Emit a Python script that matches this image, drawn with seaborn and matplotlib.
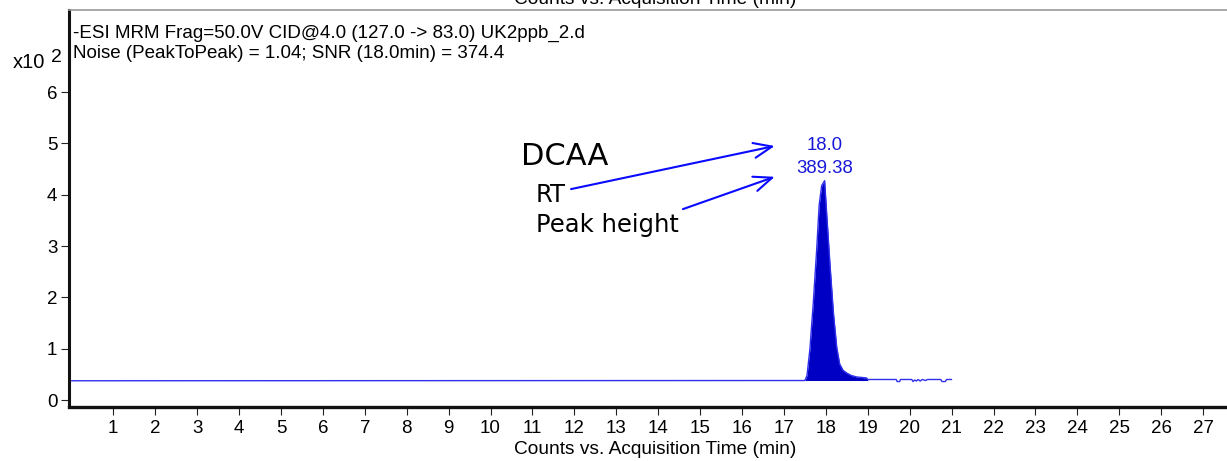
import numpy as np
import pandas as pd
import matplotlib
matplotlib.use("Agg")
import matplotlib.pyplot as plt
import seaborn as sns

# --- chromatogram trace (time in min, signal in counts) ---
baseline_counts = 38.0
peak_rt = 17.97
peak_height = 389.38

time_min = [0.00, 17.50, 17.55, 17.62, 17.70, 17.78, 17.84, 17.90, peak_rt,
            18.02, 18.10, 18.18, 18.26, 18.33, 18.41, 18.49, 18.60, 18.73,
            18.85, 18.97, 19.00, 19.68, 19.70, 19.76, 19.78, 20.05, 20.08,
            20.12, 20.16, 20.20, 20.25, 20.30, 20.38, 20.42, 20.74, 20.77,
            20.85, 20.88, 21.00]
counts = [37.5, 38.0, 48.0, 100.0, 190.0, 292.0, 380.0, 418.0,
          baseline_counts + peak_height,
          362.0, 262.0, 170.0, 102.0, 70.0, 58.0, 53.0, 48.0, 45.0,
          44.0, 43.0, 40.0, 40.0, 36.0, 36.0, 40.0, 40.0, 36.0,
          39.0, 37.0, 40.0, 37.0, 40.0, 38.0, 40.0, 40.0, 36.0,
          36.0, 40.0, 40.0]

x_ticks = list(range(1, 28))
y_ticks = [0, 1, 2, 3, 4, 5, 6]
header_lines = ["-ESI MRM Frag=50.0V CID@4.0 (127.0 -> 83.0) UK2ppb_2.d",
                "Noise (PeakToPeak) = 1.04; SNR (18.0min) = 374.4"]
axis_title = "Counts vs. Acquisition Time (min)"

df = pd.DataFrame({"time": time_min, "signal": np.array(counts) / 100.0})

sns.set_theme(style="ticks")
plt.rcParams["font.family"] = ["Liberation Sans", "DejaVu Sans"]
plt.rcParams["text.color"] = "black"

fig = plt.figure(figsize=(12.27, 4.61), dpi=100)
ax = fig.add_axes([68.5 / 1227, 54 / 461, (1227 - 68.5) / 1227, (407 - 10) / 461])

line_blue = "#3030ec"
fill_blue = "#0000c4"
ann_blue = "#0a0aff"
label_blue = "#1818d8"

# filled peak area above the baseline
in_peak = (df["time"] >= 17.5) & (df["time"] <= 19.0)
ax.fill_between(df["time"][in_peak], baseline_counts / 100.0, df["signal"][in_peak],
                color=fill_blue, linewidth=0)
sns.lineplot(data=df, x="time", y="signal", sort=False, estimator=None,
             color=line_blue, linewidth=1.0, ax=ax)

ax.set_xlim(-0.069, 27.57)
ax.set_ylim(-0.136, 7.6)
ax.set_xticks(x_ticks)
ax.set_yticks(y_ticks)
ax.set_xticklabels([str(t) for t in x_ticks])
ax.set_yticklabels([str(t) for t in y_ticks])
ax.tick_params(axis="both", direction="out", length=6, width=0.8,
               colors="#222222", labelsize=13.5, labelcolor="black")
ax.tick_params(axis="x", pad=3)
ax.tick_params(axis="y", pad=2)

ax.spines["right"].set_visible(False)
ax.spines["top"].set_visible(True)
ax.spines["top"].set_color("#9a9a9a")
ax.spines["top"].set_linewidth(1.2)
ax.spines["left"].set_color("#111111")
ax.spines["left"].set_linewidth(2.2)
ax.spines["bottom"].set_color("#111111")
ax.spines["bottom"].set_linewidth(2.4)

ax.set_xlabel(axis_title, fontsize=13.8, color="black")
ax.set_ylabel("")
ax.xaxis.set_label_coords(0.5067, -0.085)

# header text inside the plot
fig.text(73 / 1227, 1 - 33 / 461, header_lines[0],
         fontsize=13.5, va="center", ha="left", color="black")
fig.text(73 / 1227, 1 - 54 / 461, header_lines[1],
         fontsize=13.5, va="center", ha="left", color="black")

# axis multiplier
fig.text(13 / 1227, 1 - 62.5 / 461, "x10", fontsize=14.5, va="center", ha="left")
fig.text(51 / 1227, 1 - 57 / 461, "2", fontsize=14, va="center", ha="left")

# repeated axis title, partly above the top edge
fig.text(655.5 / 1227, 1 - 4 / 461, axis_title, fontsize=13.8, va="baseline",
         ha="center", color="black")

# peak annotation
apex_y = (baseline_counts + peak_height) / 100.0
ax.annotate(f"{peak_height:.2f}", xy=(peak_rt, apex_y), xytext=(0, 9),
            textcoords="offset points", ha="center", va="center",
            fontsize=13.4, color=label_blue)
ax.annotate(f"{round(peak_rt, 1):.1f}", xy=(peak_rt, apex_y), xytext=(0, 25),
            textcoords="offset points", ha="center", va="center",
            fontsize=13.4, color=label_blue)

hand = ["DejaVu Sans"]
ax.text(10.72, 4.74, "DCAA", fontsize=22, family=hand, va="center", ha="left",
        color="black")
ax.text(11.08, 4.00, "RT", fontsize=17.5, family=hand, va="center", ha="left",
        color="black")
ax.text(11.08, 3.41, "Peak height", fontsize=17.5, family=hand, va="center",
        ha="left", color="black")

arrow_kw = dict(arrowstyle="->,head_length=1.1,head_width=0.45", color=ann_blue,
                lw=1.5, shrinkA=0, shrinkB=0)
ax.annotate("", xy=(16.78, 4.95), xytext=(11.92, 4.11), arrowprops=arrow_kw)
ax.annotate("", xy=(16.78, 4.35), xytext=(14.59, 3.72), arrowprops=arrow_kw)

fig.savefig("out.png", dpi=100, facecolor="white")
